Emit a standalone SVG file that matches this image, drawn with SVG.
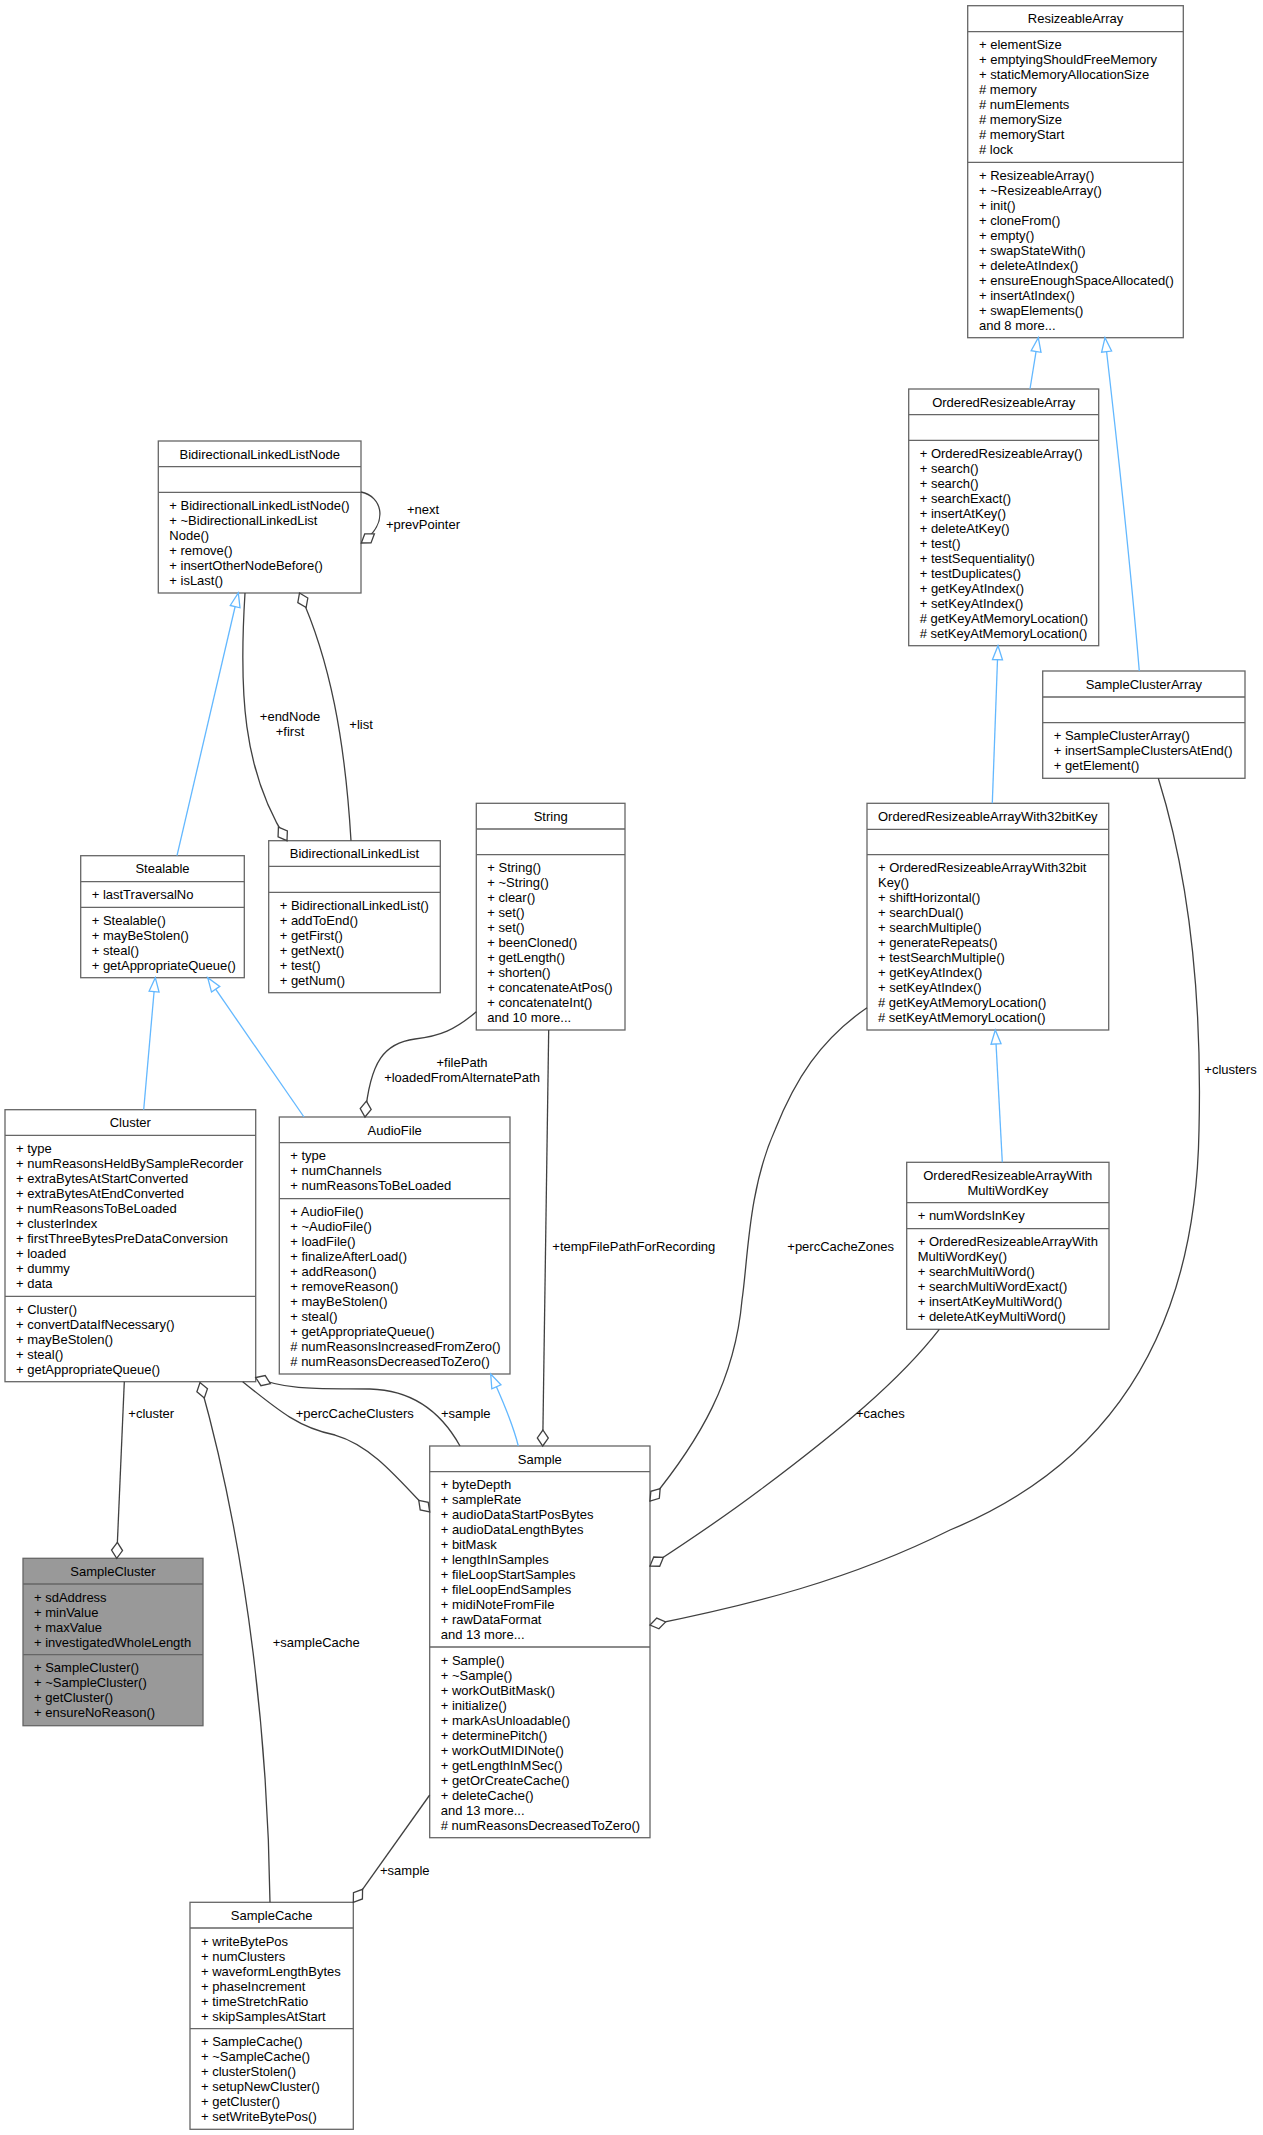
<svg xmlns="http://www.w3.org/2000/svg" width="1263" height="2135" viewBox="0 0 1263 2135">
<style>
text{font-family:"Liberation Sans",Arial,Helvetica,sans-serif;font-size:13px;fill:#000}
.box{fill:#fff;stroke:#666;stroke-width:1.3}
.hl{fill:#999;stroke:#666;stroke-width:1.3}
.sep{stroke:#666;stroke-width:1.3;fill:none}
.t{text-anchor:middle}
.inh{fill:none;stroke:#63b8ff;stroke-width:1.3;marker-end:url(#tri)}
.agg{fill:none;stroke:#404040;stroke-width:1.3;marker-end:url(#dia)}
.lbl{font-size:13px}
</style>
<defs>
<marker id="tri" markerUnits="userSpaceOnUse" markerWidth="16" markerHeight="12" viewBox="-1 -1 16 12" refX="14" refY="5" orient="auto" overflow="visible"><path d="M0,0 L14,5 L0,10 Z" fill="#fff" stroke="#63b8ff" stroke-width="1.3"/></marker>
<marker id="dia" markerUnits="userSpaceOnUse" markerWidth="18" markerHeight="13" viewBox="-1 -1 18 13" refX="16" refY="5.5" orient="auto" overflow="visible"><path d="M0,5.5 L8,0 L16,5.5 L8,11 Z" fill="#fff" stroke="#404040" stroke-width="1.3"/></marker>
</defs>
<rect width="1263" height="2135" fill="#fff"/>

<g id="ResizeableArray">
<rect class="box" x="967.7" y="5.7" width="215.6" height="332"/>
<path class="sep" d="M967.7,31.7H1183.3M967.7,162.3H1183.3"/>
<text class="t" x="1075.5" y="23.4">ResizeableArray</text>
<text x="979" y="49.4"><tspan x="979">+ elementSize</tspan><tspan x="979" dy="15">+ emptyingShouldFreeMemory</tspan><tspan x="979" dy="15">+ staticMemoryAllocationSize</tspan><tspan x="979" dy="15"># memory</tspan><tspan x="979" dy="15"># numElements</tspan><tspan x="979" dy="15"># memorySize</tspan><tspan x="979" dy="15"># memoryStart</tspan><tspan x="979" dy="15"># lock</tspan></text>
<text x="979" y="180"><tspan x="979">+ ResizeableArray()</tspan><tspan x="979" dy="15">+ ~ResizeableArray()</tspan><tspan x="979" dy="15">+ init()</tspan><tspan x="979" dy="15">+ cloneFrom()</tspan><tspan x="979" dy="15">+ empty()</tspan><tspan x="979" dy="15">+ swapStateWith()</tspan><tspan x="979" dy="15">+ deleteAtIndex()</tspan><tspan x="979" dy="15">+ ensureEnoughSpaceAllocated()</tspan><tspan x="979" dy="15">+ insertAtIndex()</tspan><tspan x="979" dy="15">+ swapElements()</tspan><tspan x="979" dy="15">and 8 more...</tspan></text>
</g>

<g id="OrderedResizeableArray">
<rect class="box" x="908.7" y="389" width="190" height="256.7"/>
<path class="sep" d="M908.7,414.7H1098.7M908.7,440.3H1098.7"/>
<text class="t" x="1003.7" y="406.7">OrderedResizeableArray</text>
<text x="919.7" y="458"><tspan x="919.7">+ OrderedResizeableArray()</tspan><tspan x="919.7" dy="15">+ search()</tspan><tspan x="919.7" dy="15">+ search()</tspan><tspan x="919.7" dy="15">+ searchExact()</tspan><tspan x="919.7" dy="15">+ insertAtKey()</tspan><tspan x="919.7" dy="15">+ deleteAtKey()</tspan><tspan x="919.7" dy="15">+ test()</tspan><tspan x="919.7" dy="15">+ testSequentiality()</tspan><tspan x="919.7" dy="15">+ testDuplicates()</tspan><tspan x="919.7" dy="15">+ getKeyAtIndex()</tspan><tspan x="919.7" dy="15">+ setKeyAtIndex()</tspan><tspan x="919.7" dy="15"># getKeyAtMemoryLocation()</tspan><tspan x="919.7" dy="15"># setKeyAtMemoryLocation()</tspan></text>
</g>

<g id="SampleClusterArray">
<rect class="box" x="1042.7" y="671" width="202.3" height="107.3"/>
<path class="sep" d="M1042.7,697H1245M1042.7,722.7H1245"/>
<text class="t" x="1143.8" y="688.7">SampleClusterArray</text>
<text x="1053.7" y="740.4"><tspan x="1053.7">+ SampleClusterArray()</tspan><tspan x="1053.7" dy="15">+ insertSampleClustersAtEnd()</tspan><tspan x="1053.7" dy="15">+ getElement()</tspan></text>
</g>

<g id="BidirectionalLinkedListNode">
<rect class="box" x="158.3" y="441" width="202.7" height="152"/>
<path class="sep" d="M158.3,466.7H361M158.3,492.3H361"/>
<text class="t" x="259.7" y="458.7">BidirectionalLinkedListNode</text>
<text x="169.3" y="510"><tspan x="169.3">+ BidirectionalLinkedListNode()</tspan><tspan x="169.3" dy="15">+ ~BidirectionalLinkedList</tspan><tspan x="169.3" dy="15">Node()</tspan><tspan x="169.3" dy="15">+ remove()</tspan><tspan x="169.3" dy="15">+ insertOtherNodeBefore()</tspan><tspan x="169.3" dy="15">+ isLast()</tspan></text>
</g>

<g id="Stealable">
<rect class="box" x="80.7" y="855.7" width="163.6" height="122"/>
<path class="sep" d="M80.7,881.7H244.3M80.7,907.3H244.3"/>
<text class="t" x="162.5" y="873.4">Stealable</text>
<text x="91.7" y="899.4">+ lastTraversalNo</text>
<text x="91.7" y="925"><tspan x="91.7">+ Stealable()</tspan><tspan x="91.7" dy="15">+ mayBeStolen()</tspan><tspan x="91.7" dy="15">+ steal()</tspan><tspan x="91.7" dy="15">+ getAppropriateQueue()</tspan></text>
</g>

<g id="BidirectionalLinkedList">
<rect class="box" x="268.7" y="840.7" width="171.6" height="152"/>
<path class="sep" d="M268.7,866.3H440.3M268.7,892.3H440.3"/>
<text class="t" x="354.5" y="858.4">BidirectionalLinkedList</text>
<text x="279.7" y="910"><tspan x="279.7">+ BidirectionalLinkedList()</tspan><tspan x="279.7" dy="15">+ addToEnd()</tspan><tspan x="279.7" dy="15">+ getFirst()</tspan><tspan x="279.7" dy="15">+ getNext()</tspan><tspan x="279.7" dy="15">+ test()</tspan><tspan x="279.7" dy="15">+ getNum()</tspan></text>
</g>

<g id="String">
<rect class="box" x="476.3" y="803.3" width="148.7" height="226.7"/>
<path class="sep" d="M476.3,829H625M476.3,854.7H625"/>
<text class="t" x="550.7" y="821">String</text>
<text x="487.3" y="872.4"><tspan x="487.3">+ String()</tspan><tspan x="487.3" dy="15">+ ~String()</tspan><tspan x="487.3" dy="15">+ clear()</tspan><tspan x="487.3" dy="15">+ set()</tspan><tspan x="487.3" dy="15">+ set()</tspan><tspan x="487.3" dy="15">+ beenCloned()</tspan><tspan x="487.3" dy="15">+ getLength()</tspan><tspan x="487.3" dy="15">+ shorten()</tspan><tspan x="487.3" dy="15">+ concatenateAtPos()</tspan><tspan x="487.3" dy="15">+ concatenateInt()</tspan><tspan x="487.3" dy="15">and 10 more...</tspan></text>
</g>

<g id="OrderedResizeableArrayWith32bitKey">
<rect class="box" x="867" y="803.3" width="241.7" height="226.7"/>
<path class="sep" d="M867,829.3H1108.7M867,854.7H1108.7"/>
<text class="t" x="987.8" y="821">OrderedResizeableArrayWith32bitKey</text>
<text x="878" y="872.4"><tspan x="878">+ OrderedResizeableArrayWith32bit</tspan><tspan x="878" dy="15">Key()</tspan><tspan x="878" dy="15">+ shiftHorizontal()</tspan><tspan x="878" dy="15">+ searchDual()</tspan><tspan x="878" dy="15">+ searchMultiple()</tspan><tspan x="878" dy="15">+ generateRepeats()</tspan><tspan x="878" dy="15">+ testSearchMultiple()</tspan><tspan x="878" dy="15">+ getKeyAtIndex()</tspan><tspan x="878" dy="15">+ setKeyAtIndex()</tspan><tspan x="878" dy="15"># getKeyAtMemoryLocation()</tspan><tspan x="878" dy="15"># setKeyAtMemoryLocation()</tspan></text>
</g>

<g id="Cluster">
<rect class="box" x="5" y="1109.7" width="250.7" height="272"/>
<path class="sep" d="M5,1135.3H255.7M5,1296.3H255.7"/>
<text class="t" x="130.3" y="1127.4">Cluster</text>
<text x="16" y="1153"><tspan x="16">+ type</tspan><tspan x="16" dy="15">+ numReasonsHeldBySampleRecorder</tspan><tspan x="16" dy="15">+ extraBytesAtStartConverted</tspan><tspan x="16" dy="15">+ extraBytesAtEndConverted</tspan><tspan x="16" dy="15">+ numReasonsToBeLoaded</tspan><tspan x="16" dy="15">+ clusterIndex</tspan><tspan x="16" dy="15">+ firstThreeBytesPreDataConversion</tspan><tspan x="16" dy="15">+ loaded</tspan><tspan x="16" dy="15">+ dummy</tspan><tspan x="16" dy="15">+ data</tspan></text>
<text x="16" y="1314"><tspan x="16">+ Cluster()</tspan><tspan x="16" dy="15">+ convertDataIfNecessary()</tspan><tspan x="16" dy="15">+ mayBeStolen()</tspan><tspan x="16" dy="15">+ steal()</tspan><tspan x="16" dy="15">+ getAppropriateQueue()</tspan></text>
</g>

<g id="AudioFile">
<rect class="box" x="279.3" y="1117" width="230.7" height="257"/>
<path class="sep" d="M279.3,1142.7H510M279.3,1198.7H510"/>
<text class="t" x="394.7" y="1134.7">AudioFile</text>
<text x="290.3" y="1160.4"><tspan x="290.3">+ type</tspan><tspan x="290.3" dy="15">+ numChannels</tspan><tspan x="290.3" dy="15">+ numReasonsToBeLoaded</tspan></text>
<text x="290.3" y="1216.4"><tspan x="290.3">+ AudioFile()</tspan><tspan x="290.3" dy="15">+ ~AudioFile()</tspan><tspan x="290.3" dy="15">+ loadFile()</tspan><tspan x="290.3" dy="15">+ finalizeAfterLoad()</tspan><tspan x="290.3" dy="15">+ addReason()</tspan><tspan x="290.3" dy="15">+ removeReason()</tspan><tspan x="290.3" dy="15">+ mayBeStolen()</tspan><tspan x="290.3" dy="15">+ steal()</tspan><tspan x="290.3" dy="15">+ getAppropriateQueue()</tspan><tspan x="290.3" dy="15"># numReasonsIncreasedFromZero()</tspan><tspan x="290.3" dy="15"># numReasonsDecreasedToZero()</tspan></text>
</g>

<g id="OrderedResizeableArrayWithMultiWordKey">
<rect class="box" x="906.7" y="1162.3" width="202.3" height="167"/>
<path class="sep" d="M906.7,1202.7H1109M906.7,1228.7H1109"/>
<text class="t" x="1007.8" y="1180"><tspan x="1007.8">OrderedResizeableArrayWith</tspan><tspan x="1007.8" dy="15">MultiWordKey</tspan></text>
<text x="917.7" y="1220.4">+ numWordsInKey</text>
<text x="917.7" y="1246.4"><tspan x="917.7">+ OrderedResizeableArrayWith</tspan><tspan x="917.7" dy="15">MultiWordKey()</tspan><tspan x="917.7" dy="15">+ searchMultiWord()</tspan><tspan x="917.7" dy="15">+ searchMultiWordExact()</tspan><tspan x="917.7" dy="15">+ insertAtKeyMultiWord()</tspan><tspan x="917.7" dy="15">+ deleteAtKeyMultiWord()</tspan></text>
</g>

<g id="Sample">
<rect class="box" x="429.7" y="1446" width="220.3" height="391.7"/>
<path class="sep" d="M429.7,1471.7H650M429.7,1647H650"/>
<text class="t" x="539.8" y="1463.7">Sample</text>
<text x="440.7" y="1489.4"><tspan x="440.7">+ byteDepth</tspan><tspan x="440.7" dy="15">+ sampleRate</tspan><tspan x="440.7" dy="15">+ audioDataStartPosBytes</tspan><tspan x="440.7" dy="15">+ audioDataLengthBytes</tspan><tspan x="440.7" dy="15">+ bitMask</tspan><tspan x="440.7" dy="15">+ lengthInSamples</tspan><tspan x="440.7" dy="15">+ fileLoopStartSamples</tspan><tspan x="440.7" dy="15">+ fileLoopEndSamples</tspan><tspan x="440.7" dy="15">+ midiNoteFromFile</tspan><tspan x="440.7" dy="15">+ rawDataFormat</tspan><tspan x="440.7" dy="15">and 13 more...</tspan></text>
<text x="440.7" y="1664.7"><tspan x="440.7">+ Sample()</tspan><tspan x="440.7" dy="15">+ ~Sample()</tspan><tspan x="440.7" dy="15">+ workOutBitMask()</tspan><tspan x="440.7" dy="15">+ initialize()</tspan><tspan x="440.7" dy="15">+ markAsUnloadable()</tspan><tspan x="440.7" dy="15">+ determinePitch()</tspan><tspan x="440.7" dy="15">+ workOutMIDINote()</tspan><tspan x="440.7" dy="15">+ getLengthInMSec()</tspan><tspan x="440.7" dy="15">+ getOrCreateCache()</tspan><tspan x="440.7" dy="15">+ deleteCache()</tspan><tspan x="440.7" dy="15">and 13 more...</tspan><tspan x="440.7" dy="15"># numReasonsDecreasedToZero()</tspan></text>
</g>

<g id="SampleCluster">
<rect class="hl" x="23" y="1558.3" width="180" height="167.4"/>
<path class="sep" d="M23,1584H203M23,1654.7H203"/>
<text class="t" x="113" y="1576">SampleCluster</text>
<text x="34" y="1601.7"><tspan x="34">+ sdAddress</tspan><tspan x="34" dy="15">+ minValue</tspan><tspan x="34" dy="15">+ maxValue</tspan><tspan x="34" dy="15">+ investigatedWholeLength</tspan></text>
<text x="34" y="1672.4"><tspan x="34">+ SampleCluster()</tspan><tspan x="34" dy="15">+ ~SampleCluster()</tspan><tspan x="34" dy="15">+ getCluster()</tspan><tspan x="34" dy="15">+ ensureNoReason()</tspan></text>
</g>

<g id="SampleCache">
<rect class="box" x="190" y="1902.3" width="163.3" height="227"/>
<path class="sep" d="M190,1928H353.3M190,2028.7H353.3"/>
<text class="t" x="271.7" y="1920">SampleCache</text>
<text x="201" y="1945.7"><tspan x="201">+ writeBytePos</tspan><tspan x="201" dy="15">+ numClusters</tspan><tspan x="201" dy="15">+ waveformLengthBytes</tspan><tspan x="201" dy="15">+ phaseIncrement</tspan><tspan x="201" dy="15">+ timeStretchRatio</tspan><tspan x="201" dy="15">+ skipSamplesAtStart</tspan></text>
<text x="201" y="2046.4"><tspan x="201">+ SampleCache()</tspan><tspan x="201" dy="15">+ ~SampleCache()</tspan><tspan x="201" dy="15">+ clusterStolen()</tspan><tspan x="201" dy="15">+ setupNewCluster()</tspan><tspan x="201" dy="15">+ getCluster()</tspan><tspan x="201" dy="15">+ setWriteBytePos()</tspan></text>
</g>

<g id="connectors">
<path class="inh" d="M1030,389 L1038.3,337.7"/>
<path class="inh" d="M1139.3,671 C1130,560 1118,450 1105,337.7"/>
<path class="inh" d="M992.3,803.3 L998,645.7"/>
<path class="inh" d="M1002.3,1162.3 L995.3,1030"/>
<path class="inh" d="M177,855.7 L238.3,593"/>
<path class="inh" d="M143.7,1109.7 L155.3,977.7"/>
<path class="inh" d="M304,1117 L207.7,977.7"/>
<path class="inh" d="M518.3,1446 C512,1420 500,1395 490.7,1374"/>

<path class="agg" d="M361,492 C382,496 390,523 361.3,543"/>
<text class="t" x="423" y="514">+next</text>
<text class="t" x="423" y="529">+prevPointer</text>

<path class="agg" d="M245,593 C239,690 242,770 287,840.7"/>
<text class="t" x="290" y="721">+endNode</text>
<text class="t" x="290" y="736">+first</text>

<path class="agg" d="M351,840.7 C345,740 330,660 299.5,593"/>
<text x="349.3" y="729">+list</text>

<path class="agg" d="M476.3,1011.7 C455,1030 440,1036 415,1039 C385,1043 370,1060 365,1117"/>
<text class="t" x="462" y="1067">+filePath</text>
<text class="t" x="462" y="1082">+loadedFromAlternatePath</text>

<path class="agg" d="M548.7,1030 L542.7,1446"/>
<text x="552.3" y="1250.7">+tempFilePathForRecording</text>

<path class="agg" d="M460,1446 C440,1410 410,1390 370,1389 C330,1388 290,1392 255.7,1377.5"/>
<text x="441" y="1418">+sample</text>

<path class="agg" d="M242.7,1381.7 C280,1412 300,1428 335,1435 C370,1445 395,1475 429.7,1512"/>
<text x="295.7" y="1418">+percCacheClusters</text>

<path class="agg" d="M867,1007.7 C820,1040 795,1080 775,1130 C748,1190 748,1260 742,1300 C735,1380 700,1440 650,1501"/>
<text x="787.3" y="1250.7">+percCacheZones</text>

<path class="agg" d="M939.3,1329.3 C900,1380 840,1430 760,1490 C720,1520 690,1540 650,1566"/>
<text x="856" y="1418.3">+caches</text>

<path class="agg" d="M1158.3,778.3 C1190,880 1202,1000 1199,1130 C1196,1320 1120,1460 950,1530 C850,1580 750,1605 650,1625"/>
<text x="1204.3" y="1074">+clusters</text>

<path class="agg" d="M124.3,1381.7 L116.7,1558.3"/>
<text x="128.3" y="1418.3">+cluster</text>

<path class="agg" d="M270,1902.3 C268,1750 250,1560 200,1382.5"/>
<text x="272.7" y="1646.7">+sampleCache</text>

<path class="agg" d="M429.7,1795 L353.3,1902.3"/>
<text x="380" y="1875">+sample</text>
</g>
</svg>
